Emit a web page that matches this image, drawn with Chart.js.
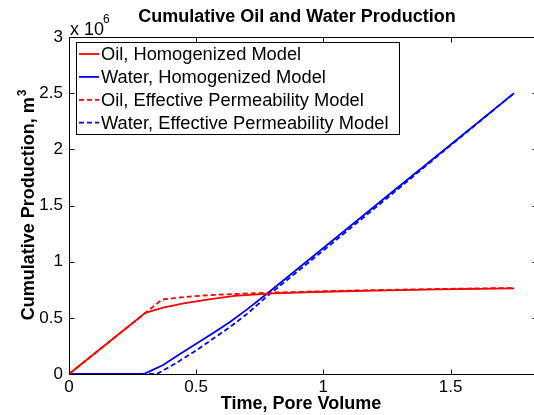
<!DOCTYPE html>
<html>
<head>
<meta charset="utf-8">
<script src="https://cdn.jsdelivr.net/npm/chart.js@4/dist/chart.umd.min.js"></script>
<style>
  html, body { margin: 0; padding: 0; background: #fff; overflow: hidden; }
  #wrap { width: 545px; height: 415px; }
</style>
</head>
<body>
<div id="wrap"><canvas id="c" width="545" height="415"></canvas></div>
<script>
// Cumulative production (units of 10^6) versus time in pore volumes
const timeOilHom   = [0, 0.30, 0.37, 0.45, 0.55, 0.65, 0.80, 1.00, 1.20, 1.45, 1.75];
const oilHom       = [0, 0.545, 0.59, 0.628, 0.665, 0.695, 0.718, 0.732, 0.743, 0.753, 0.762];

const timeWaterHom = [0, 0.29, 0.30, 0.37, 0.43, 0.50, 0.57, 0.634, 0.70, 0.783, 1.00, 1.25, 1.50, 1.75];
const waterHom     = [0, 0, 0.005, 0.08, 0.17, 0.27, 0.37, 0.466, 0.575, 0.724, 1.122, 1.582, 2.041, 2.50];

const timeOilEff   = [0, 0.365, 0.45, 0.55, 0.65, 0.80, 1.00, 1.20, 1.45, 1.75];
const oilEff       = [0, 0.662, 0.685, 0.702, 0.712, 0.725, 0.737, 0.747, 0.757, 0.766];

const timeWaterEff = [0, 0.345, 0.37, 0.43, 0.503, 0.57, 0.634, 0.70, 0.783, 1.00, 1.25, 1.50, 1.75];
const waterEff     = [0, 0, 0.03, 0.11, 0.214, 0.32, 0.42, 0.535, 0.70, 1.10, 1.565, 2.035, 2.50];

const seriesNames = [
  'Oil, Homogenized Model',
  'Water, Homogenized Model',
  'Oil, Effective Permeability Model',
  'Water, Effective Permeability Model'
];

const xTicks = [0, 0.5, 1, 1.5];
const yTicks = [0, 0.5, 1, 1.5, 2, 2.5, 3];

const FONT = "'Liberation Sans', Arial, Helvetica, sans-serif";

function pts(xs, ys) { return xs.map((x, i) => ({ x: x, y: ys[i] })); }

// Title, axis labels, box with inward ticks, exponent and legend
const decor = {
  id: 'decor',
  afterDraw(chart) {
    const ctx = chart.ctx;
    const a = chart.chartArea;
    const xs = chart.scales.x, ys = chart.scales.y;
    const L = Math.round(a.left) + 0.5, R = Math.round(a.right) + 0.5;
    const T = Math.round(a.top) + 0.5, B = Math.round(a.bottom) + 0.5;
    ctx.save();
    ctx.strokeStyle = '#000';
    ctx.lineWidth = 1;
    ctx.strokeRect(L, T, R - L, B - T);
    const tl = 5;
    ctx.beginPath();
    xTicks.forEach(v => {
      const px = Math.round(xs.getPixelForValue(v)) + 0.5;
      ctx.moveTo(px, B); ctx.lineTo(px, B - tl);
      ctx.moveTo(px, T); ctx.lineTo(px, T + tl);
    });
    yTicks.forEach(v => {
      const py = Math.round(ys.getPixelForValue(v)) + 0.5;
      ctx.moveTo(L, py); ctx.lineTo(L + tl, py);
      ctx.moveTo(R, py); ctx.lineTo(R - tl, py);
    });
    ctx.stroke();

    ctx.fillStyle = '#000';
    // title
    ctx.font = 'bold 18px ' + FONT;
    ctx.textAlign = 'center';
    ctx.textBaseline = 'middle';
    ctx.fillText('Cumulative Oil and Water Production', 297, 17);

    // x axis label
    ctx.fillText('Time, Pore Volume', 301, 404);

    // y axis label with superscript
    ctx.save();
    ctx.translate(28, (a.top + a.bottom) / 2);
    ctx.rotate(-Math.PI / 2);
    const main = 'Cumulative Production, m';
    ctx.font = 'bold 18px ' + FONT;
    const w1 = ctx.measureText(main).width;
    ctx.font = 'bold 12px ' + FONT;
    const w2 = ctx.measureText('3').width;
    const x0 = -(w1 + w2) / 2;
    ctx.textAlign = 'left';
    ctx.textBaseline = 'alphabetic';
    ctx.font = 'bold 18px ' + FONT;
    ctx.fillText(main, x0, 6);
    ctx.font = 'bold 12px ' + FONT;
    ctx.fillText('3', x0 + w1 + 1, -2);
    ctx.restore();

    // exponent marker
    ctx.textAlign = 'left';
    ctx.textBaseline = 'alphabetic';
    ctx.font = '18px ' + FONT;
    ctx.fillText('x 10', 70, 35);
    ctx.font = '12px ' + FONT;
    ctx.fillText('6', 103, 23);

    // legend
    const bx = 76.5, by = 42.5, bw = 323, bh = 92;
    ctx.fillStyle = '#fff';
    ctx.fillRect(bx, by, bw, bh);
    ctx.strokeStyle = '#000';
    ctx.lineWidth = 1;
    ctx.strokeRect(bx, by, bw, bh);
    ctx.font = '18.3px ' + FONT;
    ctx.textBaseline = 'middle';
    chart.data.datasets.forEach((ds, i) => {
      const cy = 54 + i * 22.9;
      ctx.strokeStyle = ds.borderColor;
      ctx.lineWidth = ds.borderWidth;
      ctx.setLineDash(ds.borderDash || []);
      ctx.beginPath();
      ctx.moveTo(79, cy); ctx.lineTo(99, cy);
      ctx.stroke();
      ctx.setLineDash([]);
      ctx.fillStyle = '#000';
      ctx.fillText(ds.label, 101, cy + 1);
    });
    ctx.restore();
  }
};

const lineDefaults = { pointRadius: 0, borderWidth: 1.8, tension: 0, fill: false };

new Chart(document.getElementById('c'), {
  type: 'line',
  data: {
    datasets: [
      Object.assign({ label: seriesNames[0], data: pts(timeOilHom, oilHom), borderColor: '#ff0000' }, lineDefaults),
      Object.assign({ label: seriesNames[1], data: pts(timeWaterHom, waterHom), borderColor: '#0000ff' }, lineDefaults),
      Object.assign({ label: seriesNames[2], data: pts(timeOilEff, oilEff), borderColor: '#ff0000', borderDash: [5, 3] }, lineDefaults),
      Object.assign({ label: seriesNames[3], data: pts(timeWaterEff, waterEff), borderColor: '#0000ff', borderDash: [5, 3] }, lineDefaults)
    ]
  },
  options: {
    responsive: false,
    animation: false,
    devicePixelRatio: 1,
    layout: { padding: { left: 0, top: 37, right: 8, bottom: 0 } },
    plugins: { legend: { display: false }, title: { display: false }, tooltip: { enabled: false } },
    scales: {
      x: {
        type: 'linear', min: 0, max: 1.84,
        grid: { display: false, drawTicks: false, tickLength: 0 }, border: { display: false },
        ticks: { color: '#000', font: { family: FONT, size: 17 }, padding: 3, maxRotation: 0, callback: v => String(v) },
        afterBuildTicks(s) { s.ticks = xTicks.map(v => ({ value: v })); },
        afterFit(s) { s.height = 41; }
      },
      y: {
        type: 'linear', min: 0, max: 3,
        grid: { display: false, drawTicks: false, tickLength: 0 }, border: { display: false },
        ticks: { color: '#000', font: { family: FONT, size: 17 }, padding: 6, callback: v => String(v) },
        afterBuildTicks(s) { s.ticks = yTicks.map(v => ({ value: v })); },
        afterFit(s) { s.width = 69; }
      }
    }
  },
  plugins: [decor]
});
</script>
</body>
</html>
